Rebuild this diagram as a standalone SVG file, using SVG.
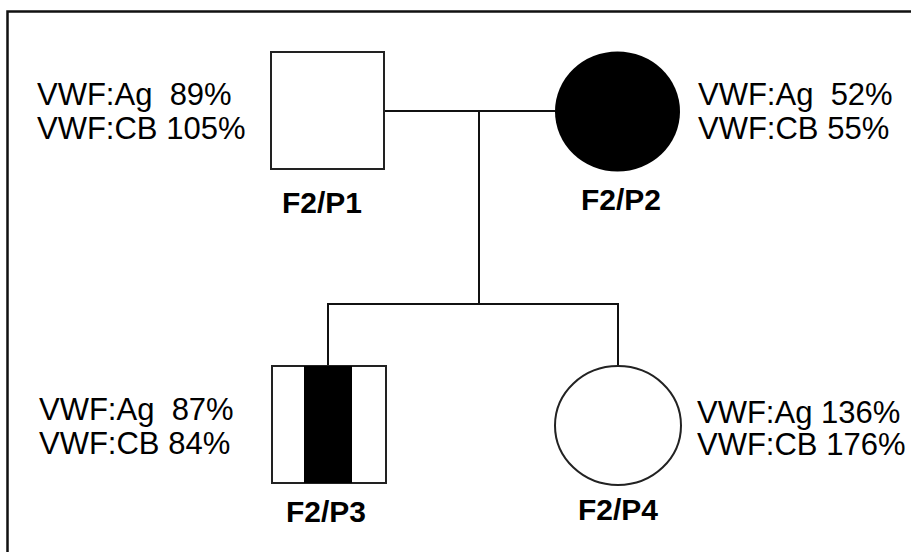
<svg xmlns="http://www.w3.org/2000/svg" width="911" height="552" viewBox="0 0 911 552">
<style>
.ln{stroke:#111;stroke-width:2;fill:none}
.sh{stroke:#222;stroke-width:2}
.v{font-family:"Liberation Sans",Arial,sans-serif;font-size:31px;fill:#000;white-space:pre}
.id{font-family:"Liberation Sans",Arial,sans-serif;font-size:30px;font-weight:bold;fill:#000;text-anchor:middle}
</style>
<rect width="911" height="552" fill="#fff"/>
<path d="M7.5 560 V11.5 H920" stroke="#111" stroke-width="2.5" fill="none"/>
<g id="connectors">
<path class="ln" d="M384 111 H555"/>
<path class="ln" d="M479 111 V304"/>
<path class="ln" d="M328 367 V304 H618 V367"/>
</g>
<g id="P1">
<rect class="sh" x="271" y="52" width="113" height="117" fill="#fff"/>
<text class="id" x="322" y="213">F2/P1</text>
<text class="v" x="37" y="105" xml:space="preserve">VWF:Ag  89%</text>
<text class="v" x="37" y="139">VWF:CB 105%</text>
</g>
<g id="P2">
<ellipse cx="617.5" cy="111.5" rx="62.5" ry="60" fill="#000"/>
<text class="id" x="621" y="210">F2/P2</text>
<text class="v" x="698" y="105" xml:space="preserve">VWF:Ag  52%</text>
<text class="v" x="698" y="139">VWF:CB 55%</text>
</g>
<g id="P3">
<rect class="sh" x="272" y="366" width="114" height="117" fill="#fff"/>
<rect x="304" y="366" width="48" height="117" fill="#000"/>
<text class="id" x="326" y="522">F2/P3</text>
<text class="v" x="39" y="420" xml:space="preserve">VWF:Ag  87%</text>
<text class="v" x="39" y="454">VWF:CB 84%</text>
</g>
<g id="P4">
<ellipse class="sh" cx="618" cy="425.5" rx="63" ry="59.5" fill="#fff"/>
<text class="id" x="618" y="520">F2/P4</text>
<text class="v" x="697" y="423">VWF:Ag 136%</text>
<text class="v" x="697" y="455">VWF:CB 176%</text>
</g>
</svg>
